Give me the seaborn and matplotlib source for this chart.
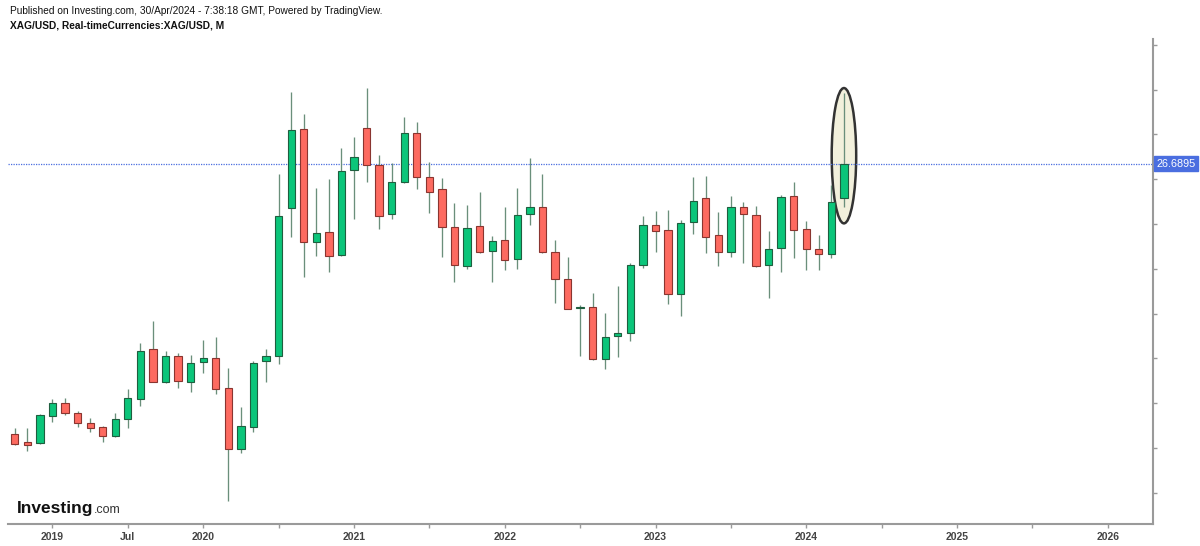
import numpy as np
import pandas as pd
import matplotlib
matplotlib.use("Agg")
import matplotlib.pyplot as plt
from matplotlib.patches import Ellipse
import seaborn as sns

# ---------------- data (monthly XAG/USD, Oct 2018 .. Apr 2024) ----------------
months = pd.date_range("2018-10-01", "2024-04-01", freq="MS")
opens = [14.63, 14.26, 14.24, 15.45, 16.03, 15.58, 15.13, 14.96, 14.54, 15.30,
         16.19, 18.41, 16.96, 18.11, 16.96, 17.83, 18.04, 16.67, 13.96, 14.93,
         17.89, 18.13, 24.73, 28.25, 23.19, 23.65, 22.62, 26.40, 28.28, 26.64,
         24.44, 25.89, 28.05, 26.09, 25.55, 23.88, 22.14, 23.92, 22.81, 23.29,
         22.44, 24.44, 24.78, 22.74, 21.54, 20.24, 20.29, 17.96, 19.00, 19.15,
         22.17, 23.96, 23.74, 20.88, 24.11, 25.15, 23.53, 22.77, 24.75, 24.41,
         22.17, 22.92, 25.27, 23.78, 22.89, 22.67, 25.15]
highs = [14.91, 14.91, 15.52, 16.19, 16.22, 15.66, 15.33, 14.99, 15.55, 16.64,
         18.68, 19.67, 18.35, 18.23, 18.16, 18.83, 18.95, 17.59, 15.85, 17.90,
         18.41, 26.22, 29.88, 28.92, 25.60, 26.01, 27.38, 27.90, 30.06, 27.08,
         26.71, 28.77, 28.54, 26.79, 26.04, 24.93, 24.85, 25.42, 23.47, 24.75,
         25.60, 26.96, 26.22, 23.29, 22.54, 20.39, 20.91, 20.04, 21.25, 22.25,
         24.36, 24.58, 24.63, 24.18, 26.12, 26.16, 24.53, 25.27, 25.00, 24.82,
         23.69, 25.30, 25.89, 24.14, 23.51, 25.75, 29.85]
lows = [14.15, 13.87, 14.20, 15.15, 15.48, 14.96, 14.73, 14.29, 14.51, 14.88,
        15.89, 16.94, 16.89, 16.67, 16.52, 17.37, 16.40, 11.65, 13.80, 14.71,
        16.96, 17.75, 23.44, 21.65, 22.58, 21.88, 22.58, 24.21, 25.89, 23.78,
        24.23, 25.82, 25.55, 24.51, 22.54, 21.43, 21.98, 22.70, 21.43, 21.95,
        22.00, 23.96, 22.70, 20.46, 20.20, 18.13, 17.93, 17.54, 18.08, 18.79,
        22.03, 22.77, 20.42, 19.91, 23.56, 22.70, 22.13, 22.54, 22.25, 22.10,
        20.69, 21.85, 22.50, 21.95, 21.95, 22.50, 24.77]
closes = [14.18, 14.14, 15.48, 16.03, 15.55, 15.11, 14.88, 14.54, 15.29, 16.22,
          18.34, 16.96, 18.11, 17.01, 17.81, 18.04, 16.62, 13.95, 15.00, 17.81,
          18.11, 24.35, 28.20, 23.19, 23.60, 22.59, 26.37, 27.00, 26.62, 24.36,
          25.87, 28.05, 26.09, 25.45, 23.86, 22.17, 23.84, 22.77, 23.26, 22.40,
          24.41, 24.78, 22.74, 21.54, 20.21, 20.30, 17.96, 18.97, 19.12, 22.17,
          23.96, 23.69, 20.88, 24.06, 25.04, 23.44, 22.74, 24.75, 24.44, 22.13,
          22.89, 25.22, 23.74, 22.89, 22.67, 24.97, 26.69]
last_price = 26.6895
tick_years = list(range(2019, 2027))

df = pd.DataFrame({"date": months, "open": opens, "high": highs,
                   "low": lows, "close": closes})
# month index, Jan 2019 = 0
df["m"] = (df["date"].dt.year - 2019) * 12 + (df["date"].dt.month - 1)
df["up"] = df["close"] >= df["open"]

# ---------------- style ----------------
sns.set_theme(style="white")
plt.rcParams["font.family"] = ["Liberation Sans", "DejaVu Sans"]

GREEN = "#0bc57a"
GREEN_EDGE = "#1f5e3f"
RED = "#fd6a60"
RED_EDGE = "#8a3530"
WICK = "#6a8f7b"
BLUE = "#4a6ee0"
AXIS = "#9a9a9a"

fig = plt.figure(figsize=(12, 5.46), dpi=100)
ax = fig.add_axes([8 / 1200, 1 - 524 / 546, (1153 - 8) / 1200, (524 - 39) / 546])

# highlight ellipse around last candle
last = df.iloc[-1]
ell_top = last["high"] + 0.22
ell_bot = last["low"] - 0.74
ax.add_patch(Ellipse((last["m"], (ell_top + ell_bot) / 2), width=1.95,
                     height=ell_top - ell_bot, facecolor="#f2f0dc",
                     edgecolor="#333333", lw=1.8, zorder=1))

# wicks
ax.vlines(df["m"], df["low"], df["high"], color=WICK, lw=0.95, zorder=2)
# bodies
body_bottom = np.minimum(df["open"], df["close"])
body_height = np.maximum(np.abs(df["close"] - df["open"]), 0.06)
colors = np.where(df["up"], GREEN, RED)
edges = np.where(df["up"], GREEN_EDGE, RED_EDGE)
ax.bar(df["m"], body_height, bottom=body_bottom, width=0.58,
       color=colors, edgecolor=edges, linewidth=0.8, zorder=3)

# last price dotted line
ax.axhline(last_price, color=BLUE, lw=0.9, ls=(0, (1, 1)), zorder=1.5)

ax.set_xlim(-3.54, 87.6)
ax.set_ylim(10.61, 32.26)

# y axis on right, ticks only
ax.yaxis.tick_right()
ax.set_yticks(np.arange(12, 33, 2))
ax.set_yticklabels([])
ax.tick_params(axis="y", direction="out", length=3, width=1, color=AXIS, right=True, left=False)

# x ticks
xt, xl = [], []
for i, yr in enumerate(tick_years):
    xt.append((yr - 2019) * 12)
    xl.append(str(yr))
    if yr < tick_years[-1]:
        xt.append((yr - 2019) * 12 + 6)
        xl.append("Jul" if yr == 2019 else "")
ax.set_xticks(xt)
ax.set_xticklabels(xl, fontsize=7.5, fontweight="bold", color="#444444")
ax.tick_params(axis="x", direction="out", length=3, width=1, color=AXIS, pad=3, bottom=True)

for s in ["top", "left"]:
    ax.spines[s].set_visible(False)
for s in ["bottom", "right"]:
    ax.spines[s].set_color(AXIS)
    ax.spines[s].set_linewidth(1.5)
ax.grid(False)

# price label box
ax.text(1.003, last_price, f"{last_price:.4f}", transform=ax.get_yaxis_transform(),
        ha="left", va="center", fontsize=7.8, color="white", zorder=5, clip_on=False,
        bbox=dict(boxstyle="square,pad=0.25", facecolor=BLUE, edgecolor=BLUE))

# header texts
fig.text(10 / 1200, 1 - 11 / 546, "Published on Investing.com, 30/Apr/2024 - 7:38:18 GMT, Powered by TradingView.",
         ha="left", va="center", fontsize=7.3, color="#111111")
fig.text(10 / 1200, 1 - 26 / 546, "XAG/USD, Real-timeCurrencies:XAG/USD, M",
         ha="left", va="center", fontsize=7.3, fontweight="bold", color="#111111")

# logo
t = fig.text(17 / 1200, 1 - 508 / 546, "Investing", ha="left", va="center",
             fontsize=12.5, fontweight="bold", color="#111111")
fig.canvas.draw()
bb = t.get_window_extent(renderer=fig.canvas.get_renderer())
fig.text((bb.x1 + 0.5) / 1200, 1 - 510 / 546, ".com", ha="left", va="center",
         fontsize=9, color="#333333")

fig.savefig("out.png", dpi=100)
